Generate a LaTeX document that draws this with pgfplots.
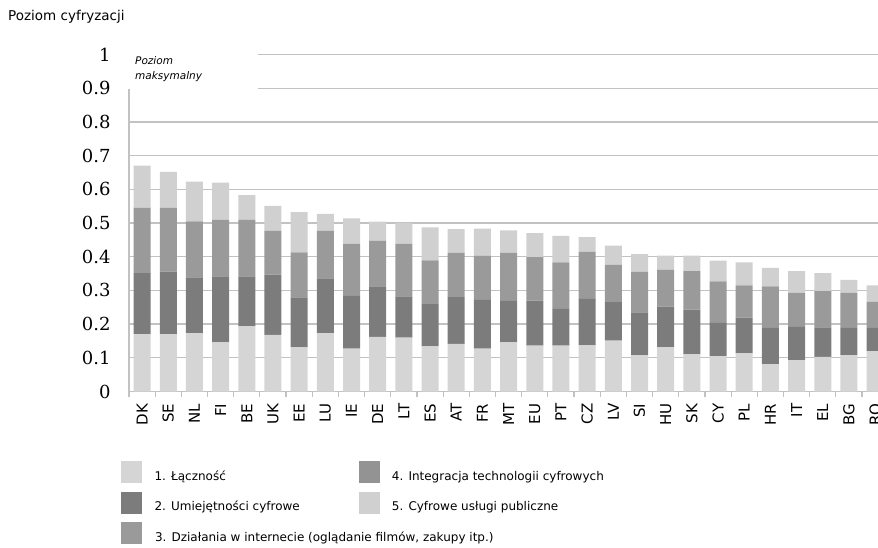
\documentclass[border=0pt]{standalone}
\usepackage{pgfplots}
\pgfplotsset{compat=1.18}
\usepackage{pgfplotstable}
\usepackage{fontspec}
\setmainfont{DejaVu Sans}
\newfontfamily\serifnum{DejaVu Serif}
\definecolor{cA}{HTML}{D5D5D5}
\definecolor{cB}{HTML}{7C7C7C}
\definecolor{cC}{HTML}{9A9A9A}
\definecolor{cD}{HTML}{939393}
\definecolor{cE}{HTML}{D0D0D0}
\definecolor{gridc}{HTML}{C2C2C2}
\pgfplotstableread{
x c s1 s2 s3 s5
0 DK 0.170 0.181 0.194 0.125
1 SE 0.170 0.186 0.189 0.107
2 NL 0.173 0.166 0.166 0.118
3 FI 0.146 0.196 0.167 0.111
4 BE 0.193 0.149 0.168 0.073
5 UK 0.168 0.179 0.130 0.074
6 EE 0.131 0.148 0.134 0.119
7 LU 0.173 0.163 0.141 0.050
8 IE 0.127 0.157 0.154 0.076
9 DE 0.162 0.150 0.136 0.056
10 LT 0.160 0.122 0.156 0.062
11 ES 0.134 0.125 0.130 0.098
12 AT 0.141 0.139 0.131 0.071
13 FR 0.127 0.145 0.131 0.080
14 MT 0.146 0.123 0.142 0.067
15 EU 0.136 0.134 0.129 0.071
16 PT 0.136 0.109 0.138 0.079
17 CZ 0.137 0.138 0.139 0.044
18 LV 0.151 0.114 0.111 0.057
19 SI 0.107 0.128 0.120 0.053
20 HU 0.132 0.120 0.110 0.041
21 SK 0.110 0.133 0.114 0.046
22 CY 0.105 0.099 0.123 0.061
23 PL 0.113 0.106 0.096 0.068
24 HR 0.081 0.108 0.123 0.055
25 IT 0.093 0.099 0.101 0.064
26 EL 0.103 0.087 0.108 0.053
27 BG 0.108 0.081 0.104 0.038
28 RO 0.120 0.069 0.078 0.048
}\data
\newcommand\sw[1]{\addlegendimage{legend image code/.code={\fill[#1] (0pt,-6pt) rectangle (20pt,15pt);}}}
\begin{document}
\begin{tikzpicture}
\begin{axis}[
  name=ax, at={(0,0)}, anchor=south west,
  width=749pt, height=337pt, scale only axis,
  ybar stacked, bar width=17pt,
  xmin=-0.5, xmax=28.11, ymin=0, ymax=1,
  enlargelimits=false,
  axis x line*=bottom, axis y line*=left,
  axis line style={draw=gridc, line width=1.3pt, -},
  ymajorgrids,
  major grid style={draw=gridc, line width=1.3pt},
  xtick={0,...,28},
  xticklabels from table={\data}{c},
  minor xtick={-0.5,0.5,...,27.5},
  major tick length=0pt, minor tick length=5pt,
  tick align=outside,
  minor tick style={draw=gridc, line width=1.2pt},
  ytick={0,0.1,0.2,0.3,0.4,0.5,0.6,0.7,0.8,0.9,1},
  /pgf/number format/assume math mode=true,
  yticklabel style={font=\serifnum\fontsize{18}{21}\selectfont, xshift=-15pt},
  xticklabel style={font=\fontsize{15}{18}\selectfont, rotate=90, anchor=east, inner sep=0pt},
  xticklabel shift=12pt,
  legend columns=2,
  legend style={at={(-0.0147,-0.200)}, anchor=north west, draw=none, fill=none,
    font=\fontsize{12}{14}\selectfont,
    nodes={inner sep=0pt, anchor=west},
    /tikz/every odd column/.append style={column sep=13pt},
    /tikz/every even column/.append style={column sep=0pt},
    row sep=9pt},
  legend cell align=left,
]
\addplot[fill=cA, draw=none, forget plot] table[x=x, y=s1]{\data};
\addplot[fill=cB, draw=none, forget plot] table[x=x, y=s2]{\data};
\addplot[fill=cC, draw=none, forget plot] table[x=x, y=s3]{\data};
\addplot[fill=cE, draw=none, forget plot] table[x=x, y=s5]{\data};
\sw{cA}\addlegendentry{\makebox[204pt][l]{1. Łączność}}
\sw{cD}\addlegendentry{4. Integracja technologii cyfrowych}
\sw{cB}\addlegendentry{\makebox[204pt][l]{2. Umiejętności cyfrowe}}
\sw{cE}\addlegendentry{5. Cyfrowe usługi publiczne}
\sw{cC}\addlegendentry{\rlap{3. Działania w internecie (oglądanie filmów, zakupy itp.)}}
\end{axis}
\fill[white] (-8pt,302pt) rectangle (129pt,345pt);
\node[anchor=north west, align=left, inner sep=0pt, font=\itshape\fontsize{10.5}{15}\selectfont] at (6pt,335pt) {Poziom\\maksymalny};
\node[anchor=west, inner sep=0pt, font=\fontsize{13.5}{16}\selectfont] at (-121pt,374.5pt) {Poziom cyfryzacji};
\pgfresetboundingbox
\path[use as bounding box] (-129pt,-155.5pt) rectangle (749pt,391.5pt);
\end{tikzpicture}
\end{document}
